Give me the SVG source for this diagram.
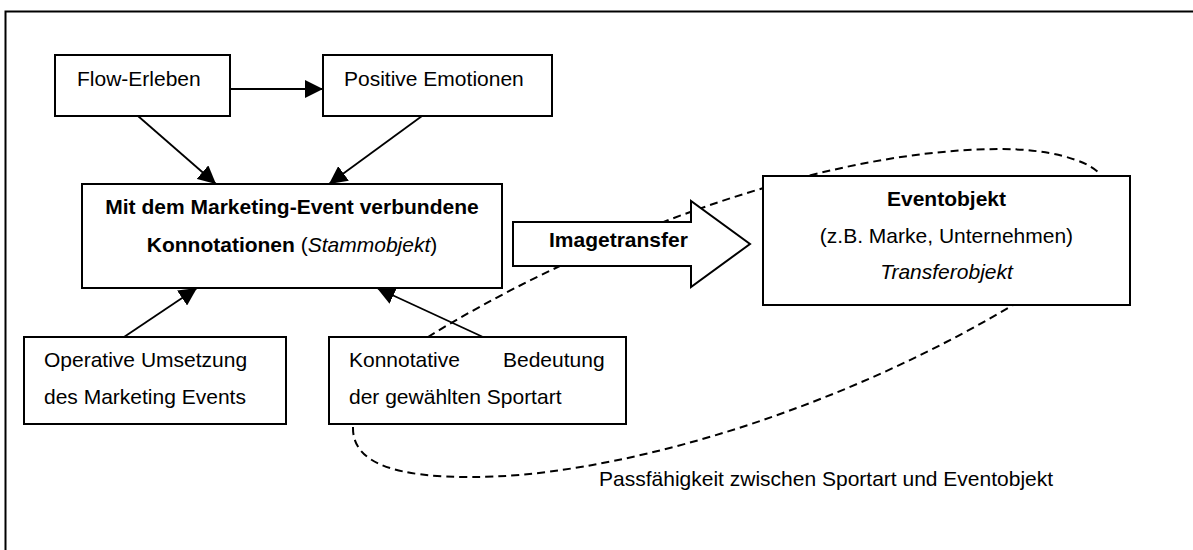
<svg xmlns="http://www.w3.org/2000/svg" width="1193" height="550" viewBox="0 0 1193 550">
<style>
.box{fill:#fff;stroke:#000;stroke-width:2}
.t{font-family:"Liberation Sans",Arial,sans-serif;font-size:21px;fill:#000}
.b{font-weight:bold}
.i{font-style:italic}
.c{text-anchor:middle}
.ln{fill:none;stroke:#000;stroke-width:1.8}
.dash{fill:none;stroke:#000;stroke-width:2;stroke-dasharray:8 5}
</style>
<defs>
<marker id="ah" markerUnits="userSpaceOnUse" markerWidth="18" markerHeight="18" viewBox="0 0 16 16" refX="16" refY="8" orient="auto">
<path d="M0,0 L16,8 L0,16 Z" fill="#000"/>
</marker>
</defs>
<rect x="5.5" y="11.5" width="1220" height="600" fill="#fff" stroke="#000" stroke-width="2"/>
<g id="connectors">
<path class="dash" d="M428,337 C560,255 800,150 1000,149 C1050,149 1085,160 1098,172"/>
<path class="dash" d="M353,427 C352,465 400,477 470,477 C600,478 820,420 1013,305"/>
<line class="ln" x1="230" y1="89" x2="323" y2="89" marker-end="url(#ah)"/>
<line class="ln" x1="138" y1="116" x2="216" y2="184" marker-end="url(#ah)"/>
<line class="ln" x1="422" y1="116" x2="329" y2="184" marker-end="url(#ah)"/>
<line class="ln" x1="124" y1="337" x2="197" y2="288" marker-end="url(#ah)"/>
<line class="ln" x1="483" y1="337" x2="377" y2="288" marker-end="url(#ah)"/>
</g>
<g id="flow">
<rect class="box" x="55" y="55" width="175" height="61"/>
<text class="t" x="77" y="86">Flow-Erleben</text>
</g>
<g id="positive">
<rect class="box" x="323" y="55" width="229" height="61"/>
<text class="t" x="344" y="86">Positive Emotionen</text>
</g>
<g id="stammobjekt">
<rect class="box" x="82" y="184" width="420" height="104"/>
<text class="t b c" x="292" y="214">Mit dem Marketing-Event verbundene</text>
<text class="t c" x="292" y="252"><tspan class="b">Konnotationen</tspan> (<tspan class="i">Stammobjekt</tspan>)</text>
</g>
<g id="imagetransfer">
<polygon class="box" points="513,222 691,222 691,201 750,244 691,287 691,266 513,266"/>
<text class="t b" x="549" y="247">Imagetransfer</text>
</g>
<g id="eventobjekt">
<rect class="box" x="763" y="176" width="367" height="129"/>
<text class="t b c" x="946.5" y="206">Eventobjekt</text>
<text class="t c" x="946.5" y="243">(z.B. Marke, Unternehmen)</text>
<text class="t i c" x="946.5" y="279">Transferobjekt</text>
</g>
<g id="operative">
<rect class="box" x="24" y="337" width="262" height="87"/>
<text class="t" x="44" y="367">Operative Umsetzung</text>
<text class="t" x="44" y="404">des Marketing Events</text>
</g>
<g id="konnotative">
<rect class="box" x="329" y="337" width="297" height="87"/>
<text class="t" x="349" y="367">Konnotative</text>
<text class="t" x="503" y="367">Bedeutung</text>
<text class="t" x="349" y="404">der gewählten Sportart</text>
</g>
<g id="passlabel">
<text class="t" x="599" y="486">Passfähigkeit zwischen Sportart und Eventobjekt</text>
</g>
</svg>
